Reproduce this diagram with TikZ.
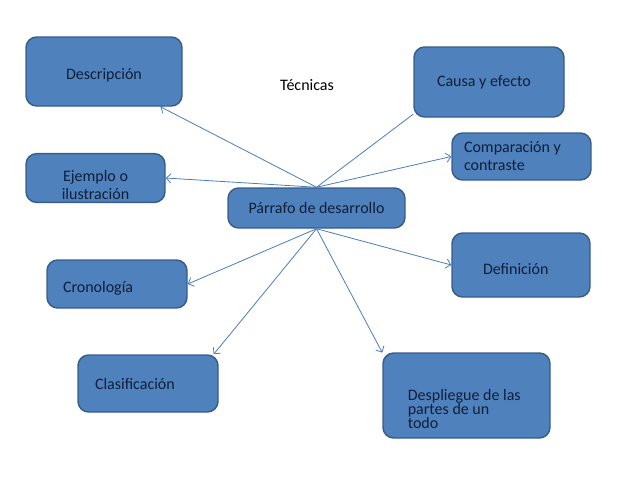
\documentclass[tikz,border=0pt]{standalone}
\usepackage{fontspec}
\setmainfont{Carlito}
\usetikzlibrary{arrows.meta,positioning}
\definecolor{boxfill}{HTML}{4F81BD}
\definecolor{boxline}{HTML}{385D8A}
\definecolor{linkblue}{HTML}{4A7EBB}
\definecolor{boxtext}{HTML}{0F1F3A}
\tikzset{
  box/.style={draw=boxline, fill=boxfill, rounded corners=8pt, line width=1.1pt,
    text=boxtext, font=\fontsize{12}{13.5}\selectfont, inner sep=2pt},
  lowtext/.style={text height=#1},
  link/.style={draw=linkblue, line width=0.6pt, ->}
}
\begin{document}
\begin{tikzpicture}[x=0.75pt, y=-0.75pt, >={Straight Barb[length=3.5pt,width=7pt]}]
    \useasboundingbox (0,0) rectangle (638,479);
    \node[box, lowtext=14pt, minimum width=117pt, minimum height=51.75pt] (desc) at (104,71.5) {Descripción};
    \node[box, minimum width=112.5pt, minimum height=52.5pt, text width=78pt, align=flush left] (causa) at (489,82) {Causa y efecto};
    \node[box, minimum width=104.25pt, minimum height=35.25pt, text width=86.25pt, align=flush left] (comp) at (521.5,156.5) {Comparación y\\contraste};
    \node[box, lowtext=19pt, minimum width=104.25pt, minimum height=36pt, text width=60pt, align=flush center] (ejem) at (95.5,178) {\lineskiplimit=-20pt\relax Ejemplo o\\ilustración};
    \node[box, minimum width=132.75pt, minimum height=30pt] (parr) at (316.5,208) {Párrafo de desarrollo};
    \node[box, lowtext=15pt, minimum width=105pt, minimum height=36pt, text width=81pt, align=flush left] (cron) at (117,284) {Cronología};
    \node[box, lowtext=14pt, minimum width=103.5pt, minimum height=48pt, text width=57pt, align=flush left] (defi) at (521,265) {Definición};
    \node[box, minimum width=105pt, minimum height=42.75pt, text width=79.5pt, align=flush left] (clas) at (148,383.5) {Clasificación};
    \node[box, lowtext=29pt, minimum width=125.25pt, minimum height=63.75pt, text width=88pt, align=flush left,
      font=\fontsize{12}{10.5}\selectfont] (desp) at (466.5,395.5) {\lineskiplimit=-20pt\relax Despliegue de las\\partes de un\\todo};
    \node[text=black, font=\fontsize{12}{14.5}\selectfont] (tecn) at (307,85) {Técnicas};
    \draw[link] (parr.north) -- (desc.-32);
    \draw[link, -] (parr.north) -- (causa.203);
    \draw[link] (parr.north) -- (comp.west);
    \draw[link] (parr.north) -- (ejem.east);
    \draw[link] (parr.south) -- (defi.west);
    \draw[link] (parr.south) -- (desp.153);
    \draw[link] (parr.south) -- (clas.24);
    \draw[link] (parr.south) -- (cron.east);
\end{tikzpicture}
\end{document}
